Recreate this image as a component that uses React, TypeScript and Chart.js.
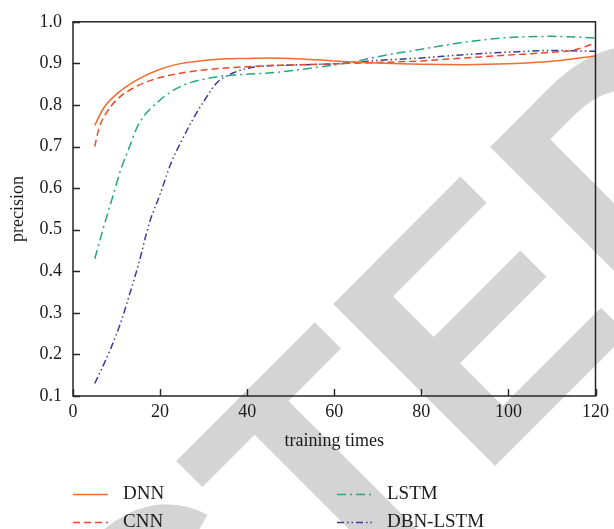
import { useEffect, useRef } from "react";
import { Chart, registerables } from "chart.js";

Chart.register(...registerables);

const seriesLabels = ["DNN", "CNN", "LSTM", "DBN-LSTM"];

const dnnX = [5, 7, 10, 15, 20, 25, 30, 35, 40, 45, 50, 60, 70, 80, 90, 100, 110, 120];
const dnnY = [0.751, 0.792, 0.826, 0.862, 0.886, 0.900, 0.907, 0.911, 0.912, 0.913, 0.912, 0.906, 0.901, 0.898, 0.897, 0.899, 0.905, 0.918];

const cnnX = [5, 6, 7.5, 10, 15, 20, 25, 30, 35, 40, 45, 50, 60, 70, 80, 90, 100, 110, 115, 120];
const cnnY = [0.700, 0.745, 0.778, 0.812, 0.847, 0.866, 0.877, 0.884, 0.889, 0.892, 0.895, 0.896, 0.899, 0.902, 0.906, 0.913, 0.920, 0.927, 0.932, 0.949];

const lstmX = [5, 7, 9, 11, 13, 15, 20, 25, 30, 35, 40, 45, 50, 55, 60, 65, 70, 80, 90, 100, 110, 120];
const lstmY = [0.430, 0.505, 0.575, 0.645, 0.700, 0.752, 0.812, 0.846, 0.862, 0.870, 0.874, 0.877, 0.882, 0.889, 0.896, 0.905, 0.916, 0.934, 0.951, 0.962, 0.965, 0.961];

const dbnX = [5, 8.5, 11, 13, 15, 17.5, 20, 22.5, 25, 27.5, 30, 33, 35, 37, 40, 45, 50, 60, 70, 80, 90, 100, 110, 120];
const dbnY = [0.130, 0.210, 0.278, 0.345, 0.415, 0.515, 0.585, 0.660, 0.715, 0.765, 0.808, 0.853, 0.868, 0.878, 0.888, 0.894, 0.896, 0.899, 0.907, 0.913, 0.921, 0.927, 0.931, 0.929];

const xTickStep = 20;
const yTickStep = 0.1;

const colors = ["#F26B2C", "#F0462A", "#2AA67C", "#3C3A9A"];
const dashes = [[], [7, 4], [9, 4, 2, 4], [7, 3, 1.5, 3, 1.5, 3]];

const FONT = "'Liberation Serif', 'Times New Roman', serif";

const toPoints = (xs: number[], ys: number[]) => xs.map((x, i) => ({ x, y: ys[i] }));

const watermarkPlugin = {
  id: "watermark",
  beforeDraw(chart: any) {
    const { ctx, width, height } = chart;
    ctx.save();
    ctx.fillStyle = "#ffffff";
    ctx.fillRect(0, 0, width, height);
    ctx.fillStyle = "#d4d4d4";
    ctx.font = "bold 333px 'Liberation Sans'";
    ctx.textBaseline = "alphabetic";
    ctx.textAlign = "left";
    ctx.translate(494, 467);
    ctx.rotate((-45 * Math.PI) / 180);
    const pre = ctx.measureText("RETRACT").width;
    const eLeft = ctx.measureText("E").actualBoundingBoxLeft;
    ctx.fillText("RETRACTED", eLeft - pre, 0);
    ctx.restore();
  },
};

const framePlugin = {
  id: "frame",
  afterDatasetsDraw(chart: any) {
    const { ctx, chartArea } = chart;
    const { left, right, top, bottom } = chartArea;
    const xs = chart.scales.x;
    const ys = chart.scales.y;
    ctx.save();
    ctx.strokeStyle = "#262626";
    ctx.lineWidth = 1.4;
    ctx.beginPath();
    xs.ticks.forEach((t: any) => {
      const px = Math.round(xs.getPixelForValue(t.value)) + 0.5;
      ctx.moveTo(px, bottom);
      ctx.lineTo(px, bottom - 7);
    });
    ys.ticks.forEach((t: any) => {
      const py = Math.round(ys.getPixelForValue(t.value)) + 0.5;
      ctx.moveTo(left, py);
      ctx.lineTo(left + 7, py);
    });
    ctx.stroke();
    ctx.lineWidth = 1.5;
    ctx.strokeRect(left, top, right - left, bottom - top);
    ctx.restore();
  },
  afterDraw(chart: any) {
    const { ctx, chartArea } = chart;
    const left = chartArea.left;
    const rowY = [494, 522];
    const colX = [left, left + 264];
    ctx.save();
    ctx.font = `19px ${FONT}`;
    ctx.textBaseline = "middle";
    ctx.textAlign = "left";
    chart.data.datasets.forEach((ds: any, i: number) => {
      const col = Math.floor(i / 2);
      const row = i % 2;
      const x0 = colX[col];
      const y = rowY[row] + 0.5;
      ctx.strokeStyle = ds.borderColor;
      ctx.lineWidth = 1.5;
      ctx.setLineDash(ds.borderDash || []);
      ctx.beginPath();
      ctx.moveTo(x0, y);
      ctx.lineTo(x0 + 35, y);
      ctx.stroke();
      ctx.setLineDash([]);
      ctx.fillStyle = "#1a1a1a";
      ctx.fillText(ds.label, x0 + 50, y);
    });
    ctx.restore();
  },
};

export default function App() {
  const ref = useRef<HTMLCanvasElement | null>(null);
  useEffect(() => {
    if (!ref.current) return;
    const series = [toPoints(dnnX, dnnY), toPoints(cnnX, cnnY), toPoints(lstmX, lstmY), toPoints(dbnX, dbnY)];
    const chart = new Chart(ref.current, {
      type: "line",
      data: {
        datasets: series.map((data, i) => ({
          label: seriesLabels[i],
          data,
          borderColor: colors[i],
          backgroundColor: colors[i],
          borderWidth: 1.5,
          borderDash: dashes[i],
          pointRadius: 0,
          fill: false,
          cubicInterpolationMode: "monotone" as const,
        })),
      },
      options: {
        animation: false,
        responsive: false,
        layout: { padding: { top: 18, right: 16, bottom: 73, left: 0 } },
        plugins: { legend: { display: false }, tooltip: { enabled: false } },
        scales: {
          x: {
            type: "linear",
            min: 0,
            max: 120,
            ticks: { stepSize: xTickStep, color: "#1a1a1a", font: { family: FONT, size: 18 }, padding: 5, maxRotation: 0 },
            grid: { display: false, drawTicks: false },
            border: { display: false },
            title: { display: true, text: "training times", color: "#1a1a1a", font: { family: FONT, size: 18 }, padding: { top: 0, bottom: 4 } },
            afterFit: (s: any) => { s.height = 60; },
          },
          y: {
            type: "linear",
            min: 0.1,
            max: 1.0,
            ticks: { stepSize: yTickStep, color: "#1a1a1a", font: { family: FONT, size: 18 }, padding: 11, callback: (v: any) => Number(v).toFixed(1) },
            grid: { display: false, drawTicks: false },
            border: { display: false },
            title: { display: true, text: "precision", color: "#1a1a1a", font: { family: FONT, size: 18 }, padding: { top: 7, bottom: 0 } },
            afterFit: (s: any) => { s.width = 73; },
          },
        },
      },
      plugins: [watermarkPlugin, framePlugin],
    });
    return () => chart.destroy();
  }, []);
  return (
    <div style={{ position: "fixed", left: 0, top: 0, width: 614, height: 529, background: "#fff" }}>
      <canvas ref={ref} width={614} height={529} style={{ width: 614, height: 529, display: "block" }} />
    </div>
  );
}
